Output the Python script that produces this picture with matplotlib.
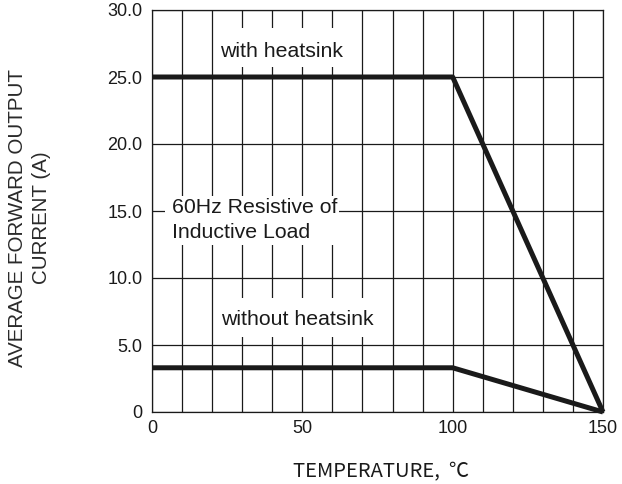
"""Forward current derating curve: average output current vs temperature."""
import matplotlib
matplotlib.use("Agg")
import matplotlib.pyplot as plt
from matplotlib.patches import Rectangle

plt.rcParams["font.family"] = ["Liberation Sans", "DejaVu Sans"]

# Derating curves (temperature in C, current in A)
temp_with = [0, 100, 150]
current_with = [25.0, 25.0, 0.0]
temp_without = [0, 100, 150]
current_without = [3.3, 3.3, 0.0]

x_ticks = [0, 50, 100, 150]
y_ticks = [0, 5, 10, 15, 20, 25, 30]
y_ticklabels = ["0", "5.0", "10.0", "15.0", "20.0", "25.0", "30.0"]

INK = "#1a1a1a"

fig = plt.figure(figsize=(6.22, 4.84), dpi=100)
ax = fig.add_axes([152 / 622, 1 - 412 / 484, 451 / 622, 402 / 484])

ax.set_xlim(0, 150)
ax.set_ylim(0, 30)
ax.set_xticks(x_ticks)
ax.set_xticks(range(0, 151, 10), minor=True)
ax.set_yticks(y_ticks)
ax.set_yticklabels(y_ticklabels)
ax.tick_params(which="both", length=0, labelsize=13, colors=INK)
ax.tick_params(axis="y", pad=7)
ax.tick_params(axis="x", pad=6)

ax.set_axisbelow(True)
ax.grid(which="both", color=INK, linewidth=0.9)
for sp in ax.spines.values():
    sp.set_color(INK)
    sp.set_linewidth(0.9)

# white masks behind the annotations (grid is cut around the text)
for (x0, y0, w, h) in [(20.95, 25.75, 43.25, 2.9),
                       (20.95, 5.6, 53.25, 2.9),
                       (4.3, 12.5, 57.9, 3.6)]:
    ax.add_patch(Rectangle((x0, y0), w, h, facecolor="white",
                           edgecolor="none", zorder=1))

ax.plot(temp_with, current_with, color=INK, linewidth=3.6,
        solid_capstyle="butt", zorder=3, clip_on=False)
ax.plot(temp_without, current_without, color=INK, linewidth=3.6,
        solid_capstyle="butt", zorder=3, clip_on=False)

ax.text(22.6, 26.5, "with heatsink", fontsize=15.3, color=INK,
        va="baseline", zorder=4)
ax.text(23.0, 6.5, "without heatsink", fontsize=15.3, color=INK,
        va="baseline", zorder=4)
ax.text(6.65, 14.85, "60Hz Resistive of", fontsize=15.3, color=INK,
        va="baseline", zorder=4)
ax.text(6.65, 13.0, "Inductive Load", fontsize=15.3, color=INK,
        va="baseline", zorder=4)

fig.text(29.5 / 622, 1 - 218 / 484, "AVERAGE FORWARD OUTPUT\nCURRENT (A)",
         rotation=90, ha="center", va="center", multialignment="center",
         fontsize=14.8, color="#2a2a2a", linespacing=1.3)
fig.text(381 / 622, 1 - 477 / 484, "TEMPERATURE,  \u2103",
         ha="center", va="baseline", fontsize=14.5, color=INK,
         family=["Noto Sans CJK SC", "DejaVu Sans"])

fig.savefig("out.png", dpi=100)
